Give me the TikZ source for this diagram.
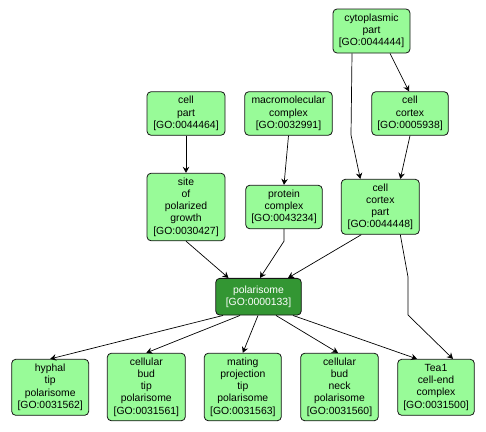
\documentclass[tikz,border=0pt]{standalone}
\usepackage{fontspec}
\setmainfont{Liberation Sans}
\usepackage{xcolor}
\definecolor{golight}{RGB}{152,251,152}
\definecolor{godark}{RGB}{51,150,51}
\definecolor{goedge}{RGB}{20,20,20}
\usetikzlibrary{arrows.meta,positioning}

\tikzset{
  goterm/.style={draw=goedge,fill=golight,rounded corners=4pt,line width=0.8pt,
    align=center,inner sep=0pt,font=\fontsize{10.4}{12.3}\selectfont},
  gomain/.style={goterm,fill=godark,text=white},
  golink/.style={draw=black,line width=0.7pt,-{Stealth[length=6pt,width=6.5pt,inset=2pt]}}
}

\begin{document}
\begin{tikzpicture}[x=1pt,y=-1pt]
  \useasboundingbox (0,0) rectangle (486,431);
  % top rows
  \node[goterm,minimum width=77pt,minimum height=44pt] (cytopart) at (371.5,31) {cytoplasmic\\part\\{[GO:0044444]}};
  \node[goterm,minimum width=78pt,minimum height=43.5pt] (cellpart) at (186,113.5) {cell\\part\\{[GO:0044464]}};
  \node[goterm,minimum width=87.5pt,minimum height=43.5pt] (macro) at (288.5,113.5) {macromolecular\\complex\\{[GO:0032991]}};
  \node[goterm,minimum width=76.5pt,minimum height=43.5pt] (cortex) at (410,113.5) {cell\\cortex\\{[GO:0005938]}};
  \node[goterm,minimum width=78pt,minimum height=67.5pt] (site) at (186,207) {site\\of\\polarized\\growth\\{[GO:0030427]}};
  \node[goterm,minimum width=76.5pt,minimum height=43.5pt] (protcomplex) at (284,207) {protein\\complex\\{[GO:0043234]}};
  \node[goterm,minimum width=78pt,minimum height=55pt] (cortexpart) at (380.3,206.8) {cell\\cortex\\part\\{[GO:0044448]}};
  % term itself
  \node[gomain,minimum width=85.5pt,minimum height=36.7pt] (polarisome) at (258.5,296.7) {polarisome\\{[GO:0000133]}};
  % children
  \node[goterm,minimum width=77pt,minimum height=56pt] (hyphal) at (50.2,387.3) {hyphal\\tip\\polarisome\\{[GO:0031562]}};
  \node[goterm,minimum width=78pt,minimum height=67.5pt] (budtip) at (146.3,387) {cellular\\bud\\tip\\polarisome\\{[GO:0031561]}};
  \node[goterm,minimum width=77pt,minimum height=67.5pt] (mating) at (242.8,387) {mating\\projection\\tip\\polarisome\\{[GO:0031563]}};
  \node[goterm,minimum width=77.6pt,minimum height=67.5pt] (budneck) at (339.5,387) {cellular\\bud\\neck\\polarisome\\{[GO:0031560]}};
  \node[goterm,minimum width=76.6pt,minimum height=56pt] (tea) at (436,387.3) {Tea1\\cell-end\\complex\\{[GO:0031500]}};
  % links
  \draw[golink] ([xshift=-19.5pt]cytopart.south) -- (351,135) -- ([xshift=-20pt]cortexpart.north);
  \draw[golink] ([xshift=18.5pt]cytopart.south) -- ([xshift=-1pt]cortex.north);
  \draw[golink] (cortex.south) -- ([xshift=20pt]cortexpart.north);
  \draw[golink] (cellpart.south) -- (site.north);
  \draw[golink] (macro.south) -- (protcomplex.north);
  \draw[golink] (site.south) -- ([xshift=-30pt]polarisome.north);
  \draw[golink] (protcomplex.south) -- ++(0,12) -- ([xshift=1.5pt]polarisome.north);
  \draw[golink] ([xshift=-19pt]cortexpart.south) -- ([xshift=29.5pt]polarisome.north);
  \draw[golink] ([xshift=20pt]cortexpart.south) -- (408,277) -- (408,315) -- ([xshift=17pt]tea.north);
  \draw[golink] ([xshift=-35.5pt]polarisome.south) -- (hyphal.north);
  \draw[golink] ([xshift=-18.5pt]polarisome.south) -- (budtip.north);
  \draw[golink] ([xshift=-0.5pt]polarisome.south) -- (mating.north);
  \draw[golink] ([xshift=17.5pt]polarisome.south) -- ([xshift=-1.5pt]budneck.north);
  \draw[golink] ([xshift=34.5pt]polarisome.south) -- ([xshift=-19pt]tea.north);
\end{tikzpicture}
\end{document}
